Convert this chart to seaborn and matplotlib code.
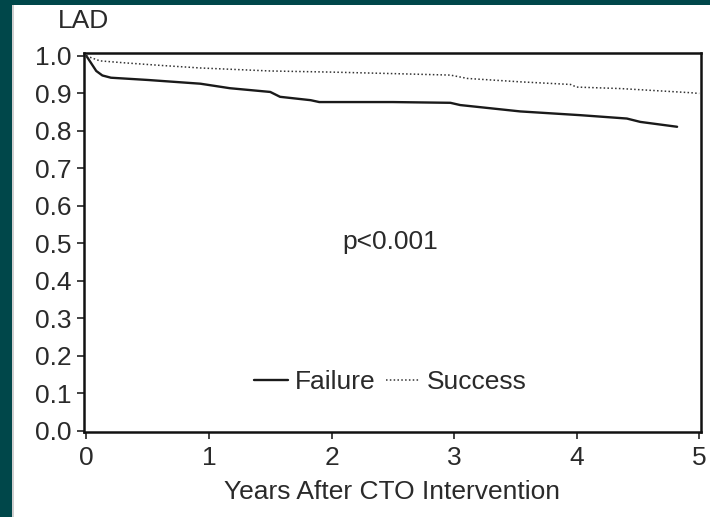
import matplotlib
matplotlib.use("Agg")
import matplotlib.pyplot as plt
import seaborn as sns
import pandas as pd
from matplotlib.patches import Rectangle
from matplotlib.lines import Line2D

# Data
failure_years = [0.0, 0.03, 0.08, 0.13, 0.2, 0.5, 0.93, 1.17, 1.5, 1.58, 1.83, 1.9, 2.5, 2.97, 3.05, 3.54, 4.03, 4.41, 4.52, 4.82]
failure_surv = [1.0, 0.985, 0.96, 0.948, 0.942, 0.936, 0.926, 0.914, 0.904, 0.891, 0.882, 0.877, 0.877, 0.875, 0.869, 0.852, 0.842, 0.833, 0.824, 0.811]
success_years = [0.0, 0.11, 0.3, 0.6, 0.93, 1.5, 2.0, 2.5, 2.97, 3.11, 3.54, 3.95, 4.0, 4.36, 4.93, 5.0]
success_surv = [1.0, 0.987, 0.982, 0.975, 0.968, 0.96, 0.957, 0.953, 0.949, 0.94, 0.931, 0.924, 0.917, 0.913, 0.902, 0.9]
x_ticks = [0, 1, 2, 3, 4, 5]
y_ticks = [0.0, 0.1, 0.2, 0.3, 0.4, 0.5, 0.6, 0.7, 0.8, 0.9, 1.0]

sns.set_style("white")
plt.rcParams['font.family'] = ['Liberation Sans', 'DejaVu Sans']

FS = 19
TXT = '#2a2a2a'

fig = plt.figure(figsize=(7.10, 5.17), dpi=100)
fig.patch.set_facecolor('#00474a')
# white panel
fig.patches.append(Rectangle((14 / 710, 0), 1 - 14 / 710, 1 - 5 / 517, transform=fig.transFigure,
                             facecolor='white', edgecolor='none', zorder=-2))
fig.patches.append(Rectangle((12 / 710, 0), 2 / 710, 1 - 5 / 517, transform=fig.transFigure,
                             facecolor='#cfcfcf', edgecolor='none', zorder=-2))

ax = fig.add_axes([84 / 710, 85 / 517, (701 - 84) / 710, (464 - 85) / 517])
ax.set_zorder(1)
ax.set_facecolor('white')

df_f = pd.DataFrame({'Years': failure_years, 'Surv': failure_surv})
df_s = pd.DataFrame({'Years': success_years, 'Surv': success_surv})
sns.lineplot(data=df_f, x='Years', y='Surv', ax=ax, color='#1a1a1a', linewidth=1.7, estimator=None, sort=False)
sns.lineplot(data=df_s, x='Years', y='Surv', ax=ax, color='#333333', linewidth=1.1, linestyle=(0, (1, 1.5)),
             estimator=None, sort=False)

ax.set_xlim(-0.02, 5.015)
ax.set_ylim(-0.004, 1.008)
ax.set_xticks(x_ticks)
ax.set_xticklabels([str(t) for t in x_ticks])
ax.set_yticks(y_ticks)
ax.set_yticklabels([f"{t:.1f}" for t in y_ticks])
ax.tick_params(axis='both', direction='out', length=5, width=1.2, color='#222222',
               labelsize=FS, labelcolor=TXT, left=True, bottom=True)
ax.tick_params(axis='y', pad=4)
ax.tick_params(axis='x', pad=5)
for s in ax.spines.values():
    s.set_color('#111111')
    s.set_linewidth(1.8)
ax.set_xlabel('Years After CTO Intervention', fontsize=FS, color=TXT, labelpad=7)
ax.set_ylabel('')

ax.text(2.48, 0.503, 'p<0.001', fontsize=FS, color=TXT, ha='center', va='center')

handles = [Line2D([], [], color='#1a1a1a', linewidth=1.7),
           Line2D([], [], color='#333333', linewidth=1.1, linestyle=(0, (1, 1.5)))]
ax.legend(handles, ['Failure', 'Success'], loc='center', bbox_to_anchor=(0.496, 0.131), ncol=2,
          frameon=False, fontsize=FS, handlelength=1.3, handletextpad=0.25, columnspacing=0.4,
          labelcolor=TXT)

fig.text(58 / 710, 1 - 21 / 517, 'LAD', fontsize=FS, color=TXT, ha='left', va='center')

fig.savefig('out.png', dpi=100, facecolor=fig.get_facecolor())
